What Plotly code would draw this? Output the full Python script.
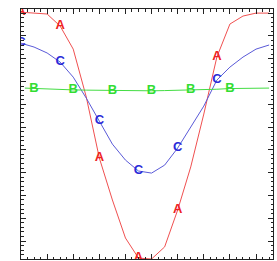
import plotly.graph_objects as go

# sample index (x) for curves A and C
x_idx = list(range(20))
A_vals = [10.04, 10.0, 9.96, 9.43, 8.42, 6.32, 3.64, 1.80, 0.13, -0.75,
          -0.79, -0.26, 1.36, 3.25, 5.57, 8.07, 9.52, 9.87, 10.0, 10.0]
C_vals = [8.68, 8.51, 8.25, 7.85, 7.19, 6.27, 5.26, 4.25, 3.55, 3.07,
          2.98, 3.33, 4.08, 5.00, 5.92, 7.06, 7.63, 8.07, 8.42, 8.60]
B_x = [0.3] + list(range(1, 20))
B_vals = [6.71, 6.69, 6.67, 6.65, 6.63, 6.62, 6.61, 6.60, 6.60, 6.59,
          6.59, 6.60, 6.61, 6.63, 6.65, 6.66, 6.69, 6.70, 6.71, 6.71]

label_idx_AC = [0, 3, 6, 9, 12, 15]
label_idx_B = [1, 4, 7, 10, 13, 16]

RED, GREEN, BLUE = "#ee2222", "#33dd33", "#2a2ad8"
LRED, LGREEN, LBLUE = "#f05050", "#44dd44", "#5a5ad8"

fig = go.Figure()
fig.add_trace(go.Scatter(x=x_idx, y=A_vals, mode="lines", line=dict(color=LRED, width=1)))
fig.add_trace(go.Scatter(x=x_idx, y=C_vals, mode="lines", line=dict(color=LBLUE, width=1)))
fig.add_trace(go.Scatter(x=B_x, y=B_vals, mode="lines", line=dict(color=LGREEN, width=1)))

def labels(xs, ys, idx, txt, col):
    return go.Scatter(
        x=[xs[i] for i in idx], y=[ys[i] for i in idx], mode="text",
        text=[txt] * len(idx), textposition="middle center",
        textfont=dict(family="Liberation Sans, Arial", size=13, color=col, weight="bold"),
        cliponaxis=True)

fig.add_trace(labels(x_idx, A_vals, label_idx_AC, "A", RED))
fig.add_trace(labels(x_idx, C_vals, label_idx_AC, "C", BLUE))
fig.add_trace(labels(x_idx, B_vals, label_idx_B, "B", GREEN))

axis_common = dict(showline=True, linecolor="#222222", linewidth=1, mirror="ticks",
                   ticks="inside", ticklen=5, tickcolor="#222222", tickwidth=1,
                   showticklabels=False, showgrid=False, zeroline=False,
                   minor=dict(ticks="inside", ticklen=2.5, nticks=5, tickcolor="#222222",
                              showgrid=False))
fig.update_xaxes(range=[0, 19.3], tick0=0, dtick=2, **axis_common)
fig.update_yaxes(range=[-0.79, 10.18], tick0=0, dtick=1, **axis_common)

fig.update_layout(width=277, height=261, margin=dict(l=21, r=4, t=9, b=2),
                  paper_bgcolor="white", plot_bgcolor="white", showlegend=False)

fig.write_html("out.html", config={"displayModeBar": False, "staticPlot": True},
               post_script="document.body.style.margin='0';document.body.style.overflow='hidden';")
